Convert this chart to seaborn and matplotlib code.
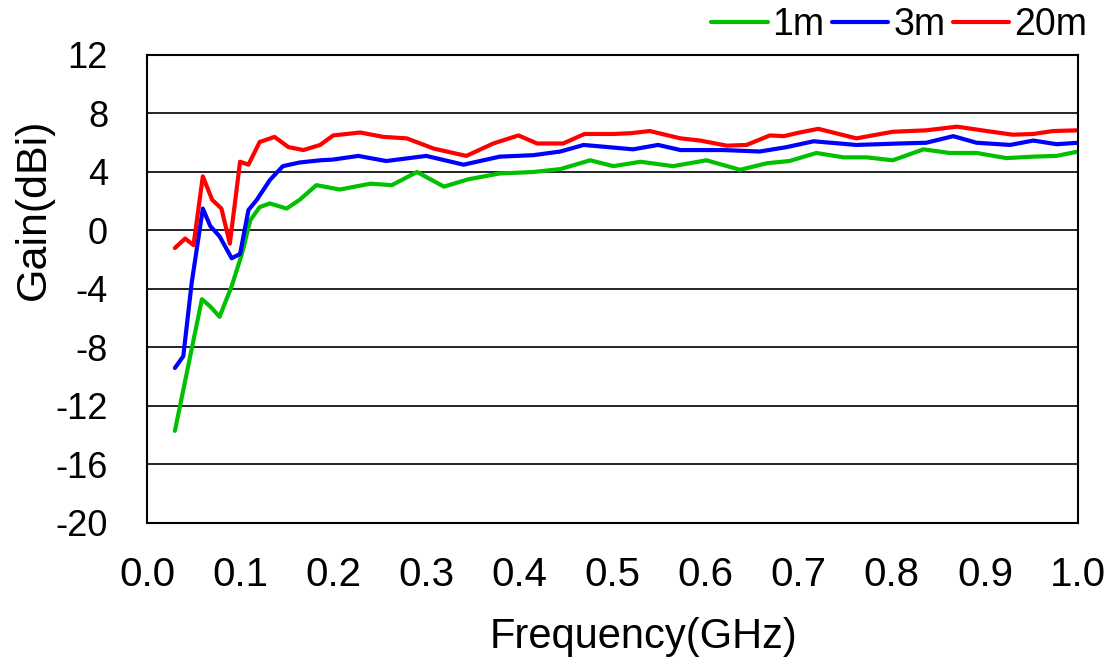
import matplotlib
import matplotlib.pyplot as plt
import pandas as pd
import seaborn as sns
from matplotlib.ticker import MultipleLocator

matplotlib.use("Agg")

# 各距離ごとの利得 (GHz, dBi)
freq_1m = [0.030, 0.059, 0.068, 0.078, 0.091, 0.102, 0.111, 0.121, 0.132, 0.150,
           0.164, 0.182, 0.207, 0.240, 0.263, 0.290, 0.319, 0.345, 0.379, 0.415,
           0.444, 0.476, 0.501, 0.530, 0.565, 0.601, 0.637, 0.666, 0.690, 0.719,
           0.748, 0.773, 0.801, 0.834, 0.862, 0.891, 0.923, 0.952, 0.977, 1.000]
gain_1m = [-13.7, -4.7, -5.2, -5.9, -3.8, -1.6, 0.7, 1.6, 1.85, 1.5,
           2.1, 3.1, 2.8, 3.2, 3.1, 4.0, 3.0, 3.5, 3.9, 4.0,
           4.2, 4.8, 4.4, 4.7, 4.4, 4.8, 4.15, 4.6, 4.75, 5.3,
           5.0, 5.0, 4.8, 5.55, 5.3, 5.3, 4.95, 5.05, 5.1, 5.4]

freq_3m = [0.030, 0.039, 0.048, 0.060, 0.068, 0.078, 0.091, 0.100, 0.109, 0.118,
           0.132, 0.146, 0.164, 0.186, 0.200, 0.227, 0.257, 0.300, 0.340, 0.379,
           0.415, 0.444, 0.469, 0.522, 0.549, 0.573, 0.619, 0.658, 0.687, 0.716,
           0.762, 0.809, 0.837, 0.866, 0.891, 0.927, 0.952, 0.977, 1.000]
gain_3m = [-9.4, -8.6, -3.6, 1.5, 0.3, -0.4, -1.9, -1.6, 1.4, 2.1,
           3.45, 4.4, 4.65, 4.8, 4.85, 5.1, 4.75, 5.1, 4.5, 5.05,
           5.15, 5.4, 5.85, 5.55, 5.85, 5.5, 5.5, 5.4, 5.7, 6.1,
           5.85, 5.95, 6.0, 6.45, 6.0, 5.85, 6.15, 5.9, 6.0]

freq_20m = [0.030, 0.041, 0.050, 0.060, 0.070, 0.080, 0.089, 0.100, 0.109, 0.121,
            0.137, 0.152, 0.168, 0.186, 0.200, 0.229, 0.254, 0.279, 0.308, 0.343,
            0.372, 0.399, 0.419, 0.447, 0.470, 0.501, 0.519, 0.540, 0.573, 0.594,
            0.623, 0.644, 0.669, 0.684, 0.701, 0.721, 0.762, 0.801, 0.837, 0.870,
            0.902, 0.930, 0.952, 0.973, 1.000]
gain_20m = [-1.2, -0.55, -1.0, 3.7, 2.1, 1.5, -0.9, 4.7, 4.5, 6.05,
            6.4, 5.7, 5.5, 5.85, 6.5, 6.7, 6.4, 6.3, 5.6, 5.1,
            5.95, 6.5, 5.95, 5.95, 6.6, 6.6, 6.65, 6.8, 6.3, 6.15,
            5.8, 5.85, 6.5, 6.45, 6.7, 6.95, 6.3, 6.75, 6.85, 7.1,
            6.8, 6.55, 6.6, 6.8, 6.85]

labels = ["1m", "3m", "20m"]
colors = ["#00C000", "#0000FF", "#FF0000"]
x_ticks = [0.0, 0.1, 0.2, 0.3, 0.4, 0.5, 0.6, 0.7, 0.8, 0.9, 1.0]
y_ticks = [12, 8, 4, 0, -4, -8, -12, -16, -20]

# ロング形式にまとめる
df = pd.concat([
    pd.DataFrame({"Frequency": freq_1m, "Gain": gain_1m, "Distance": "1m"}),
    pd.DataFrame({"Frequency": freq_3m, "Gain": gain_3m, "Distance": "3m"}),
    pd.DataFrame({"Frequency": freq_20m, "Gain": gain_20m, "Distance": "20m"}),
], ignore_index=True)

sns.set_theme(style="white")
plt.rcParams["font.family"] = ["Liberation Sans", "DejaVu Sans"]
plt.rcParams["axes.unicode_minus"] = False
plt.rcParams["text.color"] = "black"

fig = plt.figure(figsize=(11.1, 6.61), dpi=100)
ax = fig.add_axes([0.1324, 0.2088, 0.8388, 0.708])

sns.lineplot(data=df, x="Frequency", y="Gain", hue="Distance", hue_order=labels,
             palette=colors, linewidth=3, sort=False, ax=ax)

ax.set_xlim(0.0, 1.0)
ax.set_ylim(-20, 12)
ax.set_xticks(x_ticks)
ax.set_xticklabels([f"{v:.1f}" for v in x_ticks])
ax.set_yticks(y_ticks)
ax.xaxis.set_minor_locator(MultipleLocator(0.05))
ax.yaxis.set_minor_locator(MultipleLocator(2))

# 横方向のグリッド線
ax.grid(axis="y", which="major", color="black", linewidth=1.2)
ax.set_axisbelow(True)

for side in ["left", "right", "top", "bottom"]:
    ax.spines[side].set_color("black")
    ax.spines[side].set_linewidth(1.5)

ax.tick_params(axis="both", which="both", direction="in", color="black", labelcolor="black")
ax.tick_params(axis="x", which="both", length=6, width=1, pad=24, labelsize=29)
ax.tick_params(axis="y", which="major", length=0, pad=28, labelsize=26)
ax.tick_params(axis="y", which="minor", length=6, width=1)

# 軸ラベル（元図の位置に合わせる）
ax.set_xlabel("Frequency(GHz)", fontsize=30, color="black")
ax.set_ylabel("Gain(dBi)", fontsize=31, color="black")
ax.xaxis.set_label_coords(0.533, -0.200)
ax.yaxis.set_label_coords(-0.100, 0.67)

ax.legend(loc="lower right", bbox_to_anchor=(1.0097, 1.025), ncol=3, frameon=False,
          fontsize=27, handlelength=1.5, handletextpad=0.13, columnspacing=0.2,
          borderaxespad=0.0, borderpad=0.0, labelcolor="black")

plt.savefig("out.png", dpi=100)
plt.close()
